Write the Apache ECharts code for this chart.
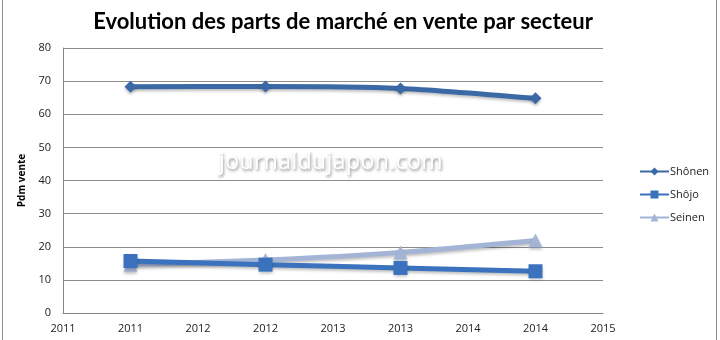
<!DOCTYPE html>
<html>
<head>
<meta charset="utf-8">
<script src="https://cdn.jsdelivr.net/npm/echarts@6/dist/echarts.min.js"></script>
<style>
  html, body { margin: 0; padding: 0; background: #fff; }
  #chart { width: 720px; height: 340px; }
  .frame { position: absolute; top: 0; bottom: 0; width: 1px; background: #8c8c8c; }
  .mark {
    position: absolute; left: 219px; top: 144px;
    font: 23px "Open Sans", sans-serif; color: #fff; letter-spacing: 0.4px;
    text-shadow: 1px 2px 3px rgba(0,0,0,0.45);
    pointer-events: none;
  }
</style>
</head>
<body>
<div id="chart"></div>
<div class="frame" style="left:2px"></div>
<div class="frame" style="left:716px"></div>
<div class="mark">journaldujapon.com</div>
<script>
// Market share by sector (sales), per year
const years   = [2011, 2012, 2013, 2014];
const shonen  = [68.3, 68.4, 67.8, 64.8];
const shojo   = [15.7, 14.6, 13.6, 12.6];
const seinen  = [14.6, 16.0, 18.3, 21.9];
const seriesNames = ['Shônen', 'Shôjo', 'Seinen'];

const colors = ['#3b69a6', '#3a72bd', '#a3b4d6'];
const symbols = ['diamond', 'rect', 'triangle'];
const values = [shonen, shojo, seinen];

const chart = echarts.init(document.getElementById('chart'));

const series = values.map((vals, i) => ({
  name: seriesNames[i],
  type: 'line',
  smooth: 0.25,
  data: vals.map((v, j) => [years[j], v]),
  symbol: symbols[i],
  symbolSize: i === 0 ? 12 : 14,
  lineStyle: {
    width: 5,
    color: colors[i],
    shadowColor: 'rgba(0,0,0,0.25)',
    shadowBlur: 3,
    shadowOffsetY: 2
  },
  itemStyle: {
    color: colors[i],
    borderWidth: 0,
    shadowColor: 'rgba(0,0,0,0.25)',
    shadowBlur: 3,
    shadowOffsetY: 2
  },
  z: 3 - i
}));

chart.setOption({
  animation: false,
  title: {
    text: 'Evolution des parts de marché en vente par secteur',
    left: 338,
    textAlign: 'center',
    top: 6,
    textStyle: { fontFamily: 'Lato', fontWeight: 'bold', fontSize: 22, color: '#000' }
  },
  legend: {
    orient: 'vertical',
    left: 634,
    top: 161,
    itemGap: 12,
    itemWidth: 29,
    itemHeight: 10,
    textStyle: { fontFamily: 'Open Sans', fontSize: 11, color: '#222', padding: [0, 0, 0, -4] },
    data: seriesNames
  },
  grid: { left: 63, right: 117, top: 48, bottom: 27, containLabel: false },
  xAxis: {
    type: 'value',
    min: 2010.5,
    max: 2014.5,
    interval: 0.5,
    axisLine: { show: true, lineStyle: { color: '#868686' } },
    axisTick: { show: false },
    splitLine: { show: false },
    axisLabel: {
      color: '#222',
      fontFamily: 'Open Sans',
      fontSize: 11,
      margin: 10,
      formatter: v => String(Math.round(v))
    }
  },
  yAxis: {
    type: 'value',
    min: 0,
    max: 80,
    interval: 10,
    name: 'Pdm vente',
    nameLocation: 'middle',
    nameGap: 23,
    nameRotate: 90,
    nameTextStyle: { fontFamily: 'Open Sans', fontWeight: 'bold', fontSize: 10, color: '#000' },
    axisLine: { show: true, lineStyle: { color: '#868686' } },
    axisTick: { show: false },
    splitLine: { lineStyle: { color: '#8c8c8c', width: 1 } },
    axisLabel: { color: '#222', fontFamily: 'Open Sans', fontSize: 11, margin: 12 }
  },
  series: series
});
</script>
</body>
</html>
